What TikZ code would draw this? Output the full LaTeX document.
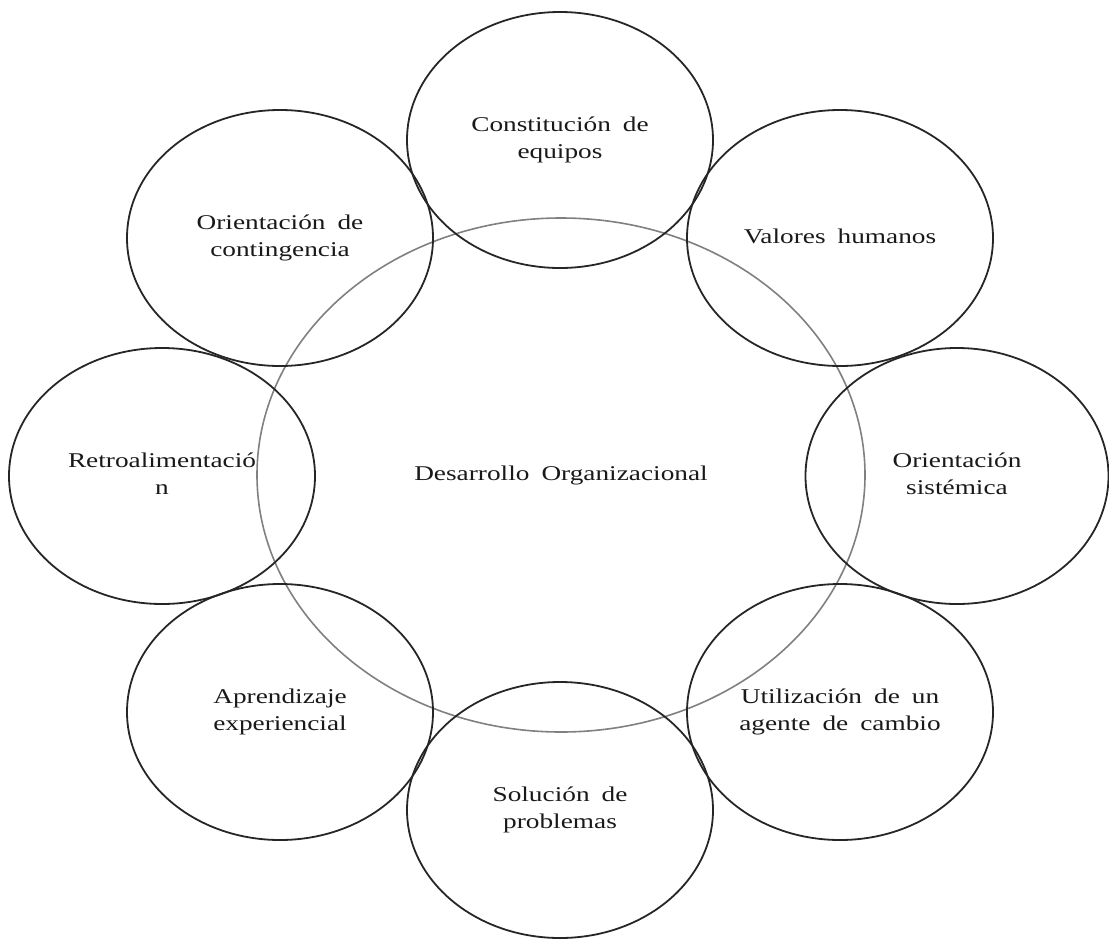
\documentclass[tikz,border=0pt]{standalone}
\usepackage{fontspec}
\setmainfont{Liberation Serif}
\usetikzlibrary{shapes.geometric}
\newcommand{\lbl}[1]{\scalebox{1.3}[1]{\fontsize{21}{27}\selectfont\spaceskip=0.44em\relax\begin{tabular}{@{}c@{}}#1\end{tabular}}}
\begin{document}
\begin{tikzpicture}[x=1pt,y=-1pt,
  petal/.style={draw=black!85,line width=1.8pt,ellipse,inner sep=0pt,minimum width=306pt,minimum height=256pt,text=black!90},
  core/.style={draw=black!50,line width=1.6pt,ellipse,inner sep=0pt,minimum width=608pt,minimum height=514pt,text=black!90}]
\useasboundingbox (0,0) rectangle (1109,940);
\node[core] (c) at (561,475) {\lbl{Desarrollo Organizacional}};
\node[petal] (t) at (560,140) {\lbl{Constitución de\\equipos}};
\node[petal] (tl) at (280,238) {\lbl{Orientación de\\contingencia}};
\node[petal] (tr) at (840,238) {\lbl{Valores humanos}};
\node[petal] (l) at (162,476) {\lbl{Retroalimentació\\n}};
\node[petal,minimum width=303pt] (r) at (957,476) {\lbl{Orientación\\sistémica}};
\node[petal] (bl) at (280,712) {\lbl{Aprendizaje\\experiencial}};
\node[petal] (br) at (840,712) {\lbl{Utilización de un\\agente de cambio}};
\node[petal] (b) at (560,810) {\lbl{Solución de\\problemas}};
\end{tikzpicture}
\end{document}
